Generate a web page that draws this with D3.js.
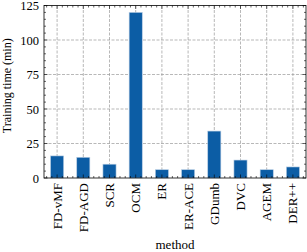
<!DOCTYPE html>
<html>
<head>
<meta charset="utf-8">
<script src="https://cdn.jsdelivr.net/npm/d3@7"></script>
<style>
  body { margin: 0; background: #fff; }
  text { font-family: "Liberation Serif", "DejaVu Serif", serif; }
</style>
</head>
<body>
<div id="chart"></div>
<script>
// data
const methods = ["FD-vMF", "FD-AGD", "SCR", "OCM", "ER", "ER-ACE", "GDumb", "DVC", "AGEM", "DER++"];
const trainTime = [16, 15, 10, 120, 6, 6, 34, 13, 6, 8];
const yTicks = [0, 25, 50, 75, 100, 125];

const W = 307, H = 252;
const margin = { top: 5.5, right: 1, bottom: 74, left: 44 };
const width = W - margin.left - margin.right;
const height = H - margin.top - margin.bottom;

const svg = d3.select("#chart").append("svg")
  .attr("width", W)
  .attr("height", H)
  .append("g")
  .attr("transform", `translate(${margin.left},${margin.top})`);

const x = d3.scaleBand().domain(methods).range([0, width])
  .paddingInner(0.5).paddingOuter(0.25);
const y = d3.scaleLinear().domain([0, 125]).range([height, 0]);

// grid
const step = x.step();
svg.append("g").selectAll("line")
  .data(methods).enter().append("line")
  .attr("x1", d => x(d) + x.bandwidth() / 2)
  .attr("x2", d => x(d) + x.bandwidth() / 2)
  .attr("y1", 0).attr("y2", height)
  .attr("stroke", "#999").attr("stroke-width", 0.7)
  .attr("stroke-dasharray", "3,1.5");
svg.append("g").selectAll("line")
  .data(yTicks.slice(1, -1)).enter().append("line")
  .attr("x1", 0).attr("x2", width)
  .attr("y1", d => y(d)).attr("y2", d => y(d))
  .attr("stroke", "#999").attr("stroke-width", 0.7)
  .attr("stroke-dasharray", "3,1.5");

// bars
svg.selectAll(".bar")
  .data(methods).enter().append("rect")
  .attr("class", "bar")
  .attr("x", d => x(d))
  .attr("y", (d, i) => y(trainTime[i]))
  .attr("width", x.bandwidth())
  .attr("height", (d, i) => height - y(trainTime[i]))
  .attr("fill", "#0C5DA5")
  .attr("stroke", "#b8cde3")
  .attr("stroke-width", 0.6);

// ticks (inward, all four sides)
const tickG = svg.append("g").attr("stroke", "#000");
const yMinor = d3.range(0, 126, 5);
yMinor.forEach(v => {
  const len = v % 25 === 0 ? 3.5 : 2;
  tickG.append("line").attr("x1", 0).attr("x2", len).attr("y1", y(v)).attr("y2", y(v)).attr("stroke-width", 0.6);
  tickG.append("line").attr("x1", width).attr("x2", width - len).attr("y1", y(v)).attr("y2", y(v)).attr("stroke-width", 0.6);
});
const xMinor = d3.range(-0.4, 9.45, 0.2);
const xc = i => x(methods[0]) + x.bandwidth() / 2 + i * step;
xMinor.forEach(v => {
  const major = Math.abs(v - Math.round(v)) < 1e-6;
  const len = major ? 3.5 : 2;
  tickG.append("line").attr("x1", xc(v)).attr("x2", xc(v)).attr("y1", height).attr("y2", height - len).attr("stroke-width", 0.6);
  tickG.append("line").attr("x1", xc(v)).attr("x2", xc(v)).attr("y1", 0).attr("y2", len).attr("stroke-width", 0.6);
});

// frame
svg.append("rect").attr("x", 0).attr("y", 0).attr("width", width).attr("height", height)
  .attr("fill", "none").attr("stroke", "#000").attr("stroke-width", 0.8);

// y tick labels
svg.append("g").selectAll("text")
  .data(yTicks).enter().append("text")
  .attr("x", -5).attr("y", d => y(d) + 0.5)
  .attr("text-anchor", "end").attr("dominant-baseline", "central")
  .style("font-size", "12.5px")
  .text(d => d);

// x tick labels
svg.append("g").selectAll("text")
  .data(methods).enter().append("text")
  .attr("transform", d => `translate(${x(d) + x.bandwidth() / 2 + 4.5},${height + 5}) rotate(-90)`)
  .attr("text-anchor", "end")
  .style("font-size", "13px")
  .text(d => d);

// axis titles
svg.append("text")
  .attr("transform", `translate(${-33},${height / 2 - 6}) rotate(-90)`)
  .attr("text-anchor", "middle")
  .style("font-size", "12px")
  .text("Training time (min)");
svg.append("text")
  .attr("x", width / 2).attr("y", height + 71)
  .attr("text-anchor", "middle")
  .style("font-size", "13px")
  .text("method");
</script>
</body>
</html>
